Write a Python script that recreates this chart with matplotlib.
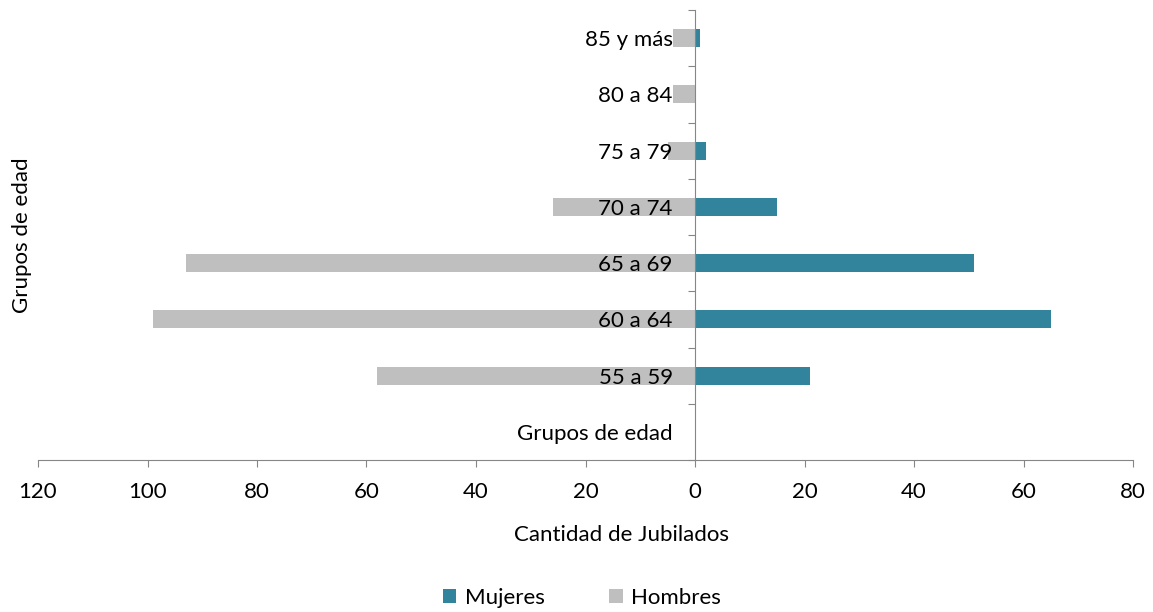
import numpy as np
import matplotlib
matplotlib.use("Agg")
import matplotlib.pyplot as plt
from matplotlib.ticker import FuncFormatter, FixedLocator

plt.rcParams["font.family"] = ["Lato", "DejaVu Sans"]

# categories from bottom to top
grupos = ["Grupos de edad", "55 a 59", "60 a 64", "65 a 69", "70 a 74",
          "75 a 79", "80 a 84", "85 y más"]
mujeres = [np.nan, 21, 65, 51, 15, 2, 0, 1]
hombres = [np.nan, 58, 99, 93, 26, 5, 4, 4]
x_ticks = [-120, -100, -80, -60, -40, -20, 0, 20, 40, 60, 80]

TEAL = "#31849B"
GRAY = "#BFBFBF"
AXC = "#868686"
FS = 16

fig = plt.figure(figsize=(11.53, 6.12), dpi=100)
ax = fig.add_axes([38 / 1153, 1 - 460 / 612, 1095 / 1153, 450 / 612])

y = np.arange(len(grupos))
h = 0.32
ax.barh(y, mujeres, h, color=TEAL, label="Mujeres", zorder=1)
ax.barh(y, -np.array(hombres, dtype=float), h, color=GRAY, label="Hombres", zorder=1)

ax.set_xlim(-120, 80)
ax.set_ylim(-0.5, len(grupos) - 0.5)
ax.set_xticks(x_ticks)
ax.xaxis.set_major_formatter(FuncFormatter(lambda v, p: f"{abs(int(v))}"))

for s in ["top", "right"]:
    ax.spines[s].set_visible(False)
ax.spines["left"].set_position(("data", 0))
ax.spines["left"].set_color(AXC)
ax.spines["bottom"].set_color(AXC)
ax.spines["left"].set_zorder(2)

ax.yaxis.set_major_locator(FixedLocator(np.arange(-0.5, len(grupos), 1.0)))
ax.yaxis.set_major_formatter(FuncFormatter(lambda v, p: ""))
ax.yaxis.set_minor_locator(FixedLocator(y))
ax.set_yticklabels(grupos, minor=True)
ax.tick_params(axis="y", which="major", length=5, color=AXC, direction="out")
ax.tick_params(axis="y", which="minor", length=0, pad=16, labelsize=FS, labelcolor="#000000")
ax.tick_params(axis="x", length=5, color=AXC, direction="out", pad=11,
               labelsize=FS, labelcolor="#000000")

fig.text(22 / 1153, 1 - 235 / 612, "Grupos de edad", rotation=90,
         ha="center", va="center", fontsize=FS)
fig.text(622 / 1153, 1 - 535 / 612, "Cantidad de Jubilados",
         ha="center", va="center", fontsize=FS)

fig.legend(loc="center", bbox_to_anchor=(582 / 1153, 1 - 598 / 612), ncol=2,
           frameon=False, fontsize=FS, handlelength=0.6, handleheight=0.6,
           handletextpad=0.4, columnspacing=2.9)

fig.savefig("out.png", dpi=100)
